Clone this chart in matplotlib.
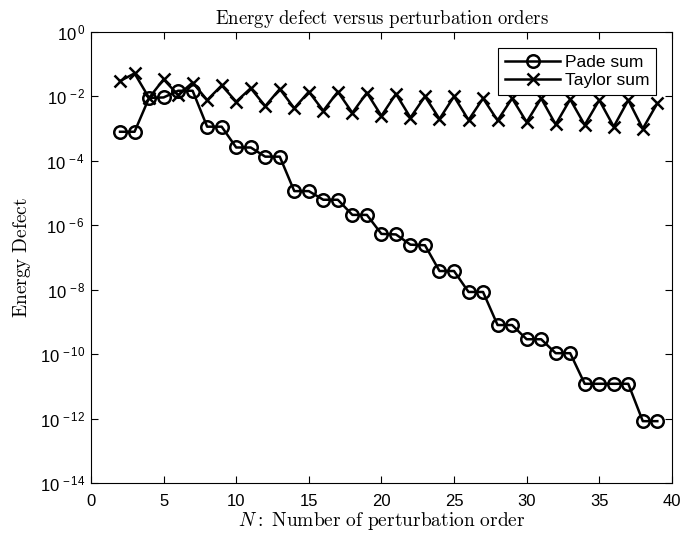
#energy defect of Pade and Taylor sums against perturbation order

#import necessary
from matplotlib import pyplot as plt
from matplotlib.ticker import FixedLocator, FuncFormatter
import numpy as np

#values
orders = np.arange(2, 40)
pade_sum = [8e-4, 8e-4, 9e-3, 9.3e-3, 1.5e-2, 1.5e-2, 1.15e-3, 1.15e-3,
            2.6e-4, 2.6e-4, 1.35e-4, 1.35e-4, 1.15e-5, 1.15e-5, 6.2e-6, 6.2e-6,
            2.1e-6, 2.1e-6, 5.4e-7, 5.2e-7, 2.5e-7, 2.4e-7, 3.8e-8, 3.8e-8,
            8.5e-9, 8.5e-9, 8e-10, 8e-10, 2.9e-10, 2.9e-10, 1.07e-10, 1.07e-10,
            1.2e-11, 1.2e-11, 1.2e-11, 1.2e-11, 8.3e-13, 8.3e-13]
taylor_sum = [3e-2, 5.2e-2, 9e-3, 3.4e-2, 1.1e-2, 2.7e-2, 7.7e-3, 2.2e-2,
              6.9e-3, 1.8e-2, 5e-3, 1.7e-2, 4.3e-3, 1.4e-2, 3.6e-3, 1.4e-2,
              3.1e-3, 1.3e-2, 2.5e-3, 1.2e-2, 2.2e-3, 1.0e-2, 2e-3, 1.0e-2,
              1.85e-3, 8.7e-3, 1.8e-3, 8.7e-3, 1.6e-3, 8.7e-3, 1.35e-3, 8.1e-3,
              1.3e-3, 7.7e-3, 1.15e-3, 7.7e-3, 1.0e-3, 6.1e-3]
xticks = [0, 5, 10, 15, 20, 25, 30, 35, 40]
ydecades = [0, -2, -4, -6, -8, -10, -12, -14]

plt.rcParams['font.family'] = 'Liberation Sans'
plt.rcParams['mathtext.fontset'] = 'custom'
plt.rcParams['mathtext.rm'] = 'Liberation Sans'
plt.rcParams['mathtext.it'] = 'Liberation Sans:italic'

fig = plt.figure(figsize=(6.8, 5.37), dpi=100)
ax = fig.add_axes([0.1338, 0.1006, 0.8542, 0.8398])

pade, = ax.semilogy(orders, pade_sum, color='black', lw=1.8, marker='o',
                    markersize=9, markerfacecolor='none', markeredgewidth=1.8,
                    label='Pade sum')
taylor, = ax.semilogy(orders, taylor_sum, color='black', lw=1.8, marker='x',
                      markersize=9, markeredgewidth=1.8, label='Taylor sum')

ax.set_xlim(0, 40)
ax.set_ylim(1e-14, 1e0)
ax.xaxis.set_major_locator(FixedLocator(xticks))
ax.yaxis.set_major_locator(FixedLocator([10.0**d for d in ydecades]))
ax.yaxis.set_minor_locator(FixedLocator([]))
ax.yaxis.set_major_formatter(FuncFormatter(lambda v, p: r'$10^{\,%d}$' % int(round(np.log10(v)))))
ax.tick_params(direction='in', top=True, right=True, labelsize=12, length=5, width=0.8)
ax.tick_params(axis='x', pad=8)
ax.tick_params(axis='y', pad=4)
for side in ax.spines.values():
    side.set_linewidth(0.8)

ax.set_title(r'$\mathrm{Energy\ defect\ versus\ perturbation\ orders}$',
             math_fontfamily='cm', fontsize=13.5, pad=6)
ax.set_xlabel(r'$N\mathrm{:\ Number\ of\ perturbation\ order}$',
              math_fontfamily='cm', fontsize=14, labelpad=1)
ax.set_ylabel(r'$\mathrm{Energy\ Defect}$', math_fontfamily='cm', fontsize=14, labelpad=5)

leg = ax.legend(handles=[pade, taylor], loc='upper right', fontsize=12.5,
                fancybox=False, framealpha=1, edgecolor='black',
                borderaxespad=0.9, handlelength=3.2, borderpad=0.4,
                labelspacing=0.2, handletextpad=0.25)
leg.get_frame().set_linewidth(0.8)

fig.savefig('out.png', dpi=100)
